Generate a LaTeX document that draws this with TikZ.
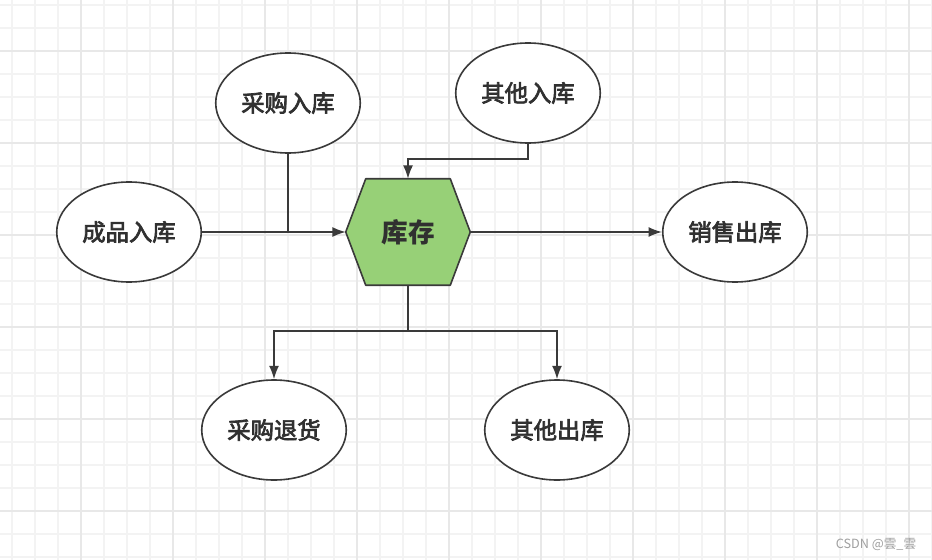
\documentclass[tikz,border=0pt]{standalone}
\usepackage{fontspec}
\setmainfont{Noto Sans CJK SC}
\newfontfamily\labelfont{Noto Sans CJK SC}[FakeBold=3]
\usepackage{tikz}
\usetikzlibrary{positioning, arrows.meta, shapes.geometric, calc, backgrounds}
\definecolor{gridminor}{HTML}{F3F3F3}
\definecolor{gridmajor}{HTML}{E8E8E8}
\definecolor{hexgreen}{HTML}{97D077}
\definecolor{edgegray}{HTML}{3A3A3A}
\definecolor{labelgray}{HTML}{303030}

\begin{document}
\begin{tikzpicture}[x=0.75pt, y=-0.75pt,
    bubble/.style={draw=edgegray, line width=1.2pt, ellipse, fill=white, minimum width=108pt, minimum height=75pt, text=labelgray, font=\labelfont\fontsize{17.5}{20}\selectfont},
    flow/.style={draw=edgegray, line width=1.2pt, arrows={-Latex[width=7.5pt, length=10pt]}},
    wire/.style={draw=edgegray, line width=1.2pt}]
      % Grid paper behind everything
      \useasboundingbox (0,0) rectangle (932,560);
      \begin{scope}[on background layer]
        \fill[white] (0,0) rectangle (932,560);
        \foreach \gx in {12,35,...,932} \draw[gridminor, line width=0.8pt] (\gx,0) -- (\gx,560);
        \foreach \gy in {5,28,...,560} \draw[gridminor, line width=0.8pt] (0,\gy) -- (932,\gy);
        \foreach \gx in {81,173,...,932} \draw[gridmajor, line width=0.9pt] (\gx,0) -- (\gx,560);
        \foreach \gy in {51,143,...,560} \draw[gridmajor, line width=0.9pt] (0,\gy) -- (932,\gy);
      \end{scope}

      % Stock in the middle
      \node[minimum width=93pt, minimum height=79.5pt, text=labelgray, font=\fontsize{20}{22}\selectfont\bfseries] at (408,232) (stock) {库存};
      \begin{scope}[on background layer]
        \draw[fill=hexgreen, draw=edgegray, line width=1.2pt, line join=round]
          (stock.west) -- ($(stock.north west)+(20,0)$) -- ($(stock.north east)+(-20,0)$)
          -- (stock.east) -- ($(stock.south east)+(-20,0)$) -- ($(stock.south west)+(20,0)$) -- cycle;
      \end{scope}

      \node[bubble] at (288,103) (purchasein) {采购入库};
      \node[bubble] at (528,93) (otherin) {其他入库};
      \node[bubble] at (129,232) (productin) {成品入库};
      \node[bubble] at (735,232) (salesout) {销售出库};
      \node[bubble] at (274,430) (purchaseret) {采购退货};
      \node[bubble] at (557,430) (otherout) {其他出库};

      \draw[flow] (productin) -- (stock.west);
      \draw[wire] (purchasein.south) -- (purchasein.south |- productin.east);
      \draw[flow] (otherin.south) -- ++(0,15) -| (stock.north);
      \draw[flow] (stock.east) -- (salesout.west);

      \coordinate (split) at ($(stock.south)+(0,46)$);
      \draw[wire] (stock.south) -- (split);
      \draw[flow] (split) -| (purchaseret.north);
      \draw[flow] (split) -| (otherout.north);

      \node[text=gray!75, font=\fontsize{9.5}{11}\selectfont] at (876,545) (mark) {CSDN @雲\_雲};
    \end{tikzpicture}
\end{document}
